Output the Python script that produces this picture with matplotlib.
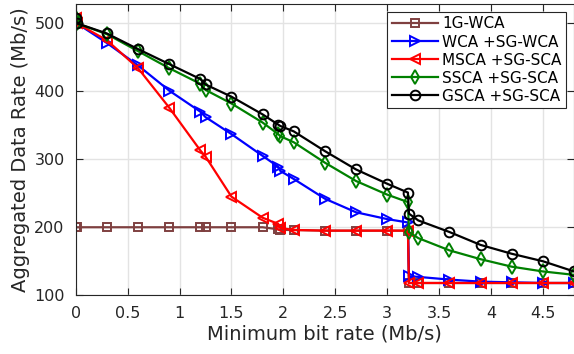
import matplotlib
matplotlib.use('Agg')
import matplotlib.pyplot as plt

# minimum bit rate values (Mb/s)
x = [0, 0.01, 0.3, 0.6, 0.9, 1.2, 1.25, 1.5, 1.8, 1.95, 1.97, 2.1, 2.4, 2.7,
     3.0, 3.2, 3.21, 3.3, 3.6, 3.9, 4.2, 4.5, 4.8]

# aggregated data rate (Mb/s)
wca_1g = [200, 200, 200, 200, 200, 200, 200, 200, 200, 197, 196, 196, 195, 195,
          195, 195, 118, 118, 118, 118, 118, 118, 118]
wca_sg = [508, 500, 471, 438, 401, 370, 362, 337, 305, 289, 283, 271, 242, 222,
          212, 207, 128, 127, 123, 120, 119, 118, 118]
msca_sg = [508, 500, 475, 434, 376, 313, 304, 245, 214, 205, 199, 196, 195, 195,
           195, 195, 118, 118, 118, 118, 118, 118, 118]
ssca_sg = [508, 500, 484, 459, 434, 411, 402, 382, 354, 337, 334, 325, 295, 268,
           248, 237, 193, 184, 166, 153, 142, 135, 130]
gsca_sg = [508, 500, 485, 462, 440, 418, 410, 392, 366, 351, 349, 341, 312, 285,
           264, 251, 220, 210, 193, 174, 161, 150, 135]

labels = ['1G-WCA', 'WCA +SG-WCA', 'MSCA +SG-SCA', 'SSCA +SG-SCA', 'GSCA +SG-SCA']

fig = plt.figure(figsize=(5.74, 3.54), dpi=100)
ax = fig.add_axes([0.132, 0.166, 0.868, 0.822])

style = dict(linewidth=1.6, markersize=7, markerfacecolor='none', markeredgewidth=1.4)
ax.plot(x, wca_1g, color='#7f4040', marker='s', label=labels[0], markersize=6,
        linewidth=1.6, markerfacecolor='none', markeredgewidth=1.4)
ax.plot(x, wca_sg, color='#0000ff', marker='>', label=labels[1], **style)
ax.plot(x, msca_sg, color='#ff0000', marker='<', label=labels[2], **style)
ax.plot(x, ssca_sg, color='#008000', marker='d', label=labels[3], **style)
ax.plot(x, gsca_sg, color='#000000', marker='o', label=labels[4], **style)

ax.set_xlim(0, 4.8)
ax.set_ylim(100, 528)
ax.set_xticks([0, 0.5, 1, 1.5, 2, 2.5, 3, 3.5, 4, 4.5])
ax.set_xticklabels(['0', '0.5', '1', '1.5', '2', '2.5', '3', '3.5', '4', '4.5'])
ax.set_yticks([100, 200, 300, 400, 500])
ax.grid(True, color='#e3e3e3', linewidth=1)
ax.set_axisbelow(True)
ax.tick_params(direction='in', top=True, right=True, labelsize=11.5,
               colors='#262626', length=5)
ax.tick_params(axis='x', pad=8)
ax.tick_params(axis='y', pad=8)
for s in ax.spines.values():
    s.set_color('#262626')
    s.set_linewidth(0.8)

ax.set_xlabel('Minimum bit rate (Mb/s)', fontsize=14, color='#262626', labelpad=2)
ax.set_ylabel('Aggregated Data Rate (Mb/s)', fontsize=14, color='#262626', labelpad=3)

leg = ax.legend(loc='upper right', fontsize=11, fancybox=False, framealpha=1,
                edgecolor='#262626', borderpad=0.3, labelspacing=0.2,
                handlelength=3.0, handletextpad=0.3, borderaxespad=0.5)
leg.get_frame().set_linewidth(0.8)

fig.savefig('out.png', dpi=100)
